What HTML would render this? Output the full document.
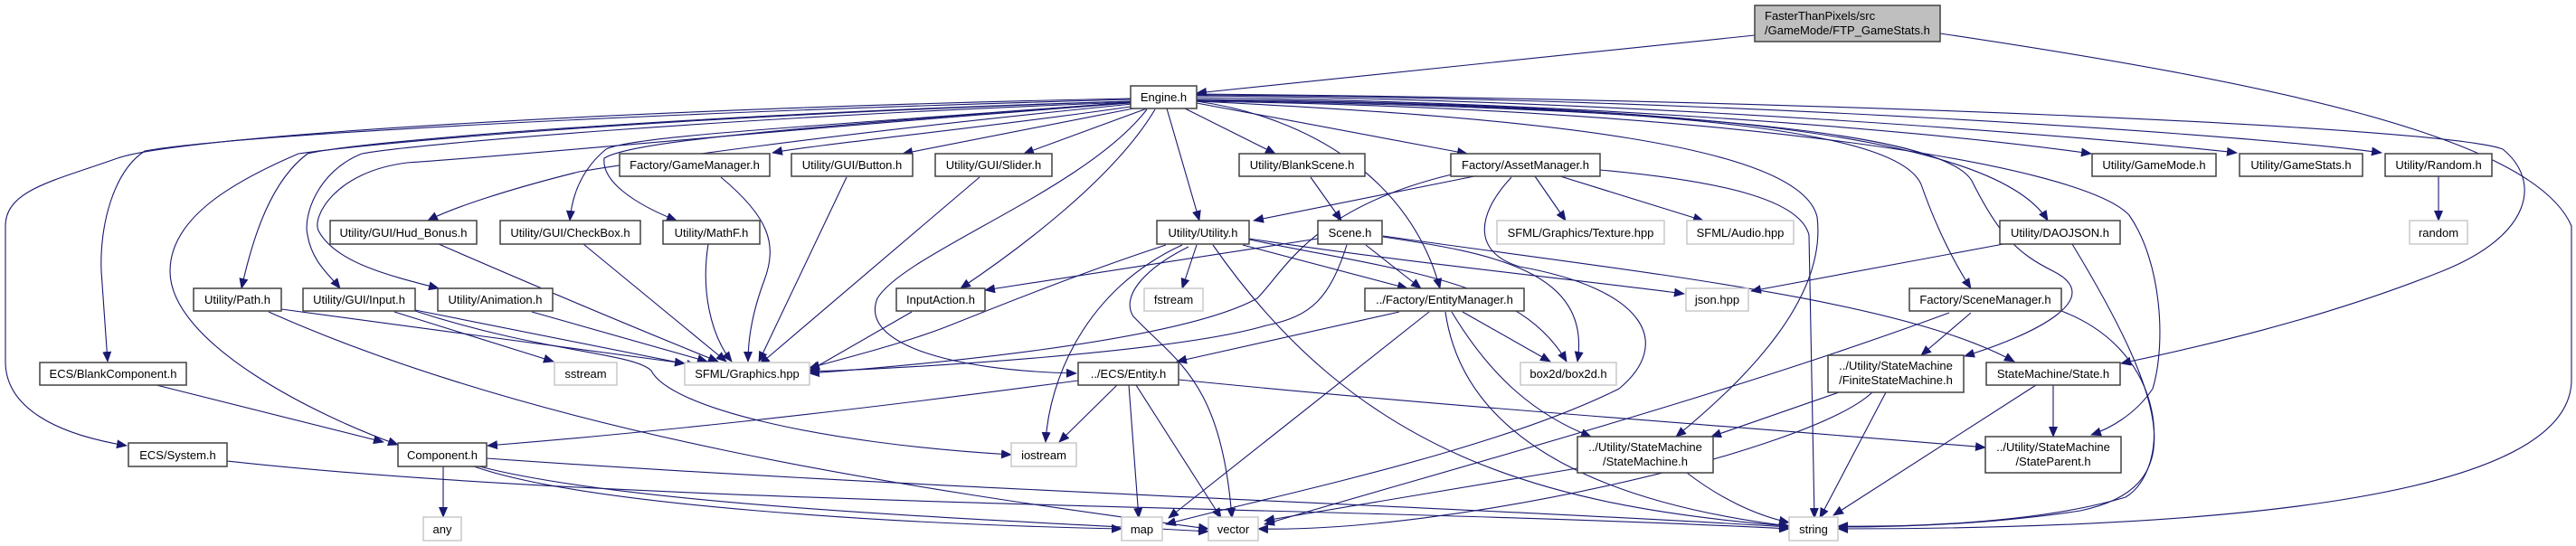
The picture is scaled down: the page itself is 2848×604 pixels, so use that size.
<!DOCTYPE html>
<html><head><meta charset="utf-8"><style>
html,body{margin:0;padding:0;background:#fff;}
svg{display:block;}
text{font-family:"Liberation Sans",sans-serif;font-size:13px;fill:#000;}
.n{fill:#fff;stroke:#404040;stroke-width:1.5;}
.g{fill:#fff;stroke:#c8c8c8;stroke-width:1.5;}
.e{fill:none;stroke:#191970;stroke-width:1.1;}
</style></head><body>
<svg width="2848" height="604" viewBox="0 0 2848 604" xmlns="http://www.w3.org/2000/svg">
<defs><marker id="a" markerUnits="userSpaceOnUse" markerWidth="12" markerHeight="10" refX="11" refY="5" orient="auto"><path d="M0,0 L12,5 L0,10 z" fill="#191970"/></marker></defs>
<g class="e" marker-end="url(#a)">
<path d="M1940,39 L1323,103"/>
<path d="M2145,37 C2500,90 2800,150 2843,250 L2843,420 C2843,560 2400,585 2032,585"/>
<path d="M1250,118 C1100,140 900,160 854,169"/>
<path d="M1253,120 L998,170"/>
<path d="M1268,120 L1132,170"/>
<path d="M1310,120 L1410,170"/>
<path d="M1323,114 L1622,170"/>
<path d="M1290,120 L1326,244"/>
<path d="M1277,121 C1230,200 1120,280 1062,319"/>
<path d="M1268,121 C1200,210 1000,280 970,330 C950,380 1050,410 1190,413"/>
<path d="M1323,112 C1450,130 1560,200 1592,319"/>
<path d="M1250,112 C700,130 400,160 330,170 C260,200 188,240 188,300 C188,380 350,460 440,492"/>
<path d="M1250,110 C700,125 250,150 160,167 C125,190 110,250 112,300 L119,400"/>
<path d="M1250,109 C700,120 200,150 130,175 C60,200 6,210 6,250 L6,400 C6,450 60,480 140,493"/>
<path d="M1250,112 C800,125 400,155 340,170 C300,200 280,260 267,319"/>
<path d="M1250,113 C800,130 450,160 400,170 C350,190 335,240 340,260 C345,290 365,305 376,319"/>
<path d="M1250,114 C900,140 600,170 450,180 C370,190 345,240 352,255 C370,290 430,305 485,319"/>
<path d="M1252,115 C900,150 700,180 640,190 C560,210 500,230 473,244"/>
<path d="M1252,113 C900,140 700,150 670,165 C640,190 632,220 630,244"/>
<path d="M1252,113 C900,140 700,155 668,175 C665,200 700,225 748,244"/>
<path d="M1323,108 C1700,112 2100,140 2312,170"/>
<path d="M1323,106 C1800,110 2300,150 2473,169"/>
<path d="M1323,105 C1900,108 2500,150 2633,169"/>
<path d="M1323,104 C2000,110 2700,140 2767,165 C2810,200 2800,260 2700,300 C2550,360 2400,390 2345,402"/>
<path d="M1323,110 C1800,115 2200,140 2264,244"/>
<path d="M1323,110 C1900,118 2100,150 2124,204 C2140,250 2160,290 2179,319"/>
<path d="M1323,111 C1900,120 2150,150 2180,200 C2210,260 2230,280 2270,300 C2330,330 2250,370 2172,394"/>
<path d="M1323,112 C1900,120 2300,180 2354,238 C2390,290 2395,380 2380,430 C2360,460 2330,475 2312,481"/>
<path d="M1323,112 C1700,130 1990,160 2009,240 C2020,330 1930,420 1853,483"/>
<path d="M1769,188 C1900,200 1990,220 2000,260 L2006,573"/>
<path d="M1630,195 L1386,244"/>
<path d="M1697,195 L1731,244"/>
<path d="M1725,195 L1883,244"/>
<path d="M1605,193 C1450,230 1420,300 1390,330 C1300,380 1000,405 895,413"/>
<path d="M1671,196 C1630,240 1630,280 1680,295 C1820,320 1850,380 1790,430 C1650,500 1400,550 1289,580"/>
<path d="M1457,264 L1089,321"/>
<path d="M1323,271 L1307,319"/>
<path d="M1374,271 L1556,319"/>
<path d="M1289,271 C1200,300 1100,340 1050,360 C1000,380 920,400 895,407"/>
<path d="M1307,271 C1200,320 1160,420 1156,489"/>
<path d="M1314,273 C1260,300 1240,330 1253,350 C1300,400 1350,420 1362,573"/>
<path d="M1341,271 C1500,500 1700,560 1978,582"/>
<path d="M1381,265 C1550,300 1680,310 1732,400"/>
<path d="M1381,264 C1550,290 1750,310 1862,325"/>
<path d="M1510,271 L1571,319"/>
<path d="M1489,271 C1470,330 1450,350 1400,360 C1300,390 1000,408 895,411"/>
<path d="M1529,262 C1650,280 1760,300 1744,400"/>
<path d="M1529,261 C1800,300 2100,330 2227,400"/>
<path d="M1449,196 L1483,244"/>
<path d="M1083,196 L840,403"/>
<path d="M936,196 L839,400"/>
<path d="M797,196 C850,240 860,270 845,310 C830,350 827,380 827,400"/>
<path d="M783,270 C775,320 785,370 809,400"/>
<path d="M645,270 L803,400"/>
<path d="M485,270 C600,320 720,370 794,400"/>
<path d="M588,345 L782,400"/>
<path d="M459,343 L770,405"/>
<path d="M436,345 L612,400"/>
<path d="M459,344 C600,390 700,390 720,410 C740,450 900,490 1118,503"/>
<path d="M311,342 L757,402"/>
<path d="M297,345 C600,480 1000,540 1336,585"/>
<path d="M1008,345 L895,410"/>
<path d="M173,426 L424,489"/>
<path d="M251,510 C700,560 1500,560 1978,585"/>
<path d="M490,516 L490,572"/>
<path d="M538,507 C1000,540 1600,560 1978,583"/>
<path d="M524,516 C650,560 1000,580 1240,585"/>
<path d="M530,516 C700,560 1100,575 1336,588"/>
<path d="M1192,421 C900,460 700,480 539,493"/>
<path d="M1235,426 L1171,489"/>
<path d="M1248,426 L1259,573"/>
<path d="M1256,426 L1350,573"/>
<path d="M1303,420 C1600,450 1900,470 2195,495"/>
<path d="M1547,345 L1301,400"/>
<path d="M1580,345 L1292,573"/>
<path d="M1617,345 L1714,400"/>
<path d="M1605,345 C1650,420 1700,460 1759,483"/>
<path d="M1598,345 C1620,500 1800,560 1978,582"/>
<path d="M1744,518 L1398,576"/>
<path d="M1865,523 C1900,550 1940,570 1978,578"/>
<path d="M2155,346 C1900,440 1600,520 1398,580"/>
<path d="M2179,346 L2124,393"/>
<path d="M2279,344 C2400,390 2400,520 2350,550 C2250,580 2100,583 2032,582"/>
<path d="M2033,434 L1892,483"/>
<path d="M2070,434 C2000,500 1600,590 1391,585"/>
<path d="M2085,434 L2012,573"/>
<path d="M2270,426 L2270,483"/>
<path d="M2251,426 L2027,570"/>
<path d="M2215,270 L1936,322"/>
<path d="M2291,270 C2400,450 2420,540 2300,565 C2200,580 2100,583 2032,583"/>
<path d="M2696,195 L2696,244"/>
</g>
<g>
<rect x="1940" y="6" width="205" height="40" fill="#bfbfbf" stroke="#404040" stroke-width="1.5"/>
<text x="1951" y="22">FasterThanPixels/src</text><text x="1951" y="38">/GameMode/FTP_GameStats.h</text>
<rect class="n" x="1250" y="95" width="73" height="25"/><text x="1286.5" y="112" text-anchor="middle">Engine.h</text>
</g>
<g text-anchor="middle">
<rect class="n" x="685" y="170" width="166" height="25"/><text x="768" y="187">Factory/GameManager.h</text>
<rect class="n" x="875" y="170" width="134" height="25"/><text x="942" y="187">Utility/GUI/Button.h</text>
<rect class="n" x="1034" y="170" width="129" height="25"/><text x="1098.5" y="187">Utility/GUI/Slider.h</text>
<rect class="n" x="1370" y="170" width="139" height="25"/><text x="1439.5" y="187">Utility/BlankScene.h</text>
<rect class="n" x="1604" y="170" width="165" height="25"/><text x="1686.5" y="187">Factory/AssetManager.h</text>
<rect class="n" x="2313" y="170" width="137" height="25"/><text x="2381.5" y="187">Utility/GameMode.h</text>
<rect class="n" x="2476" y="170" width="136" height="25"/><text x="2544" y="187">Utility/GameStats.h</text>
<rect class="n" x="2637" y="170" width="118" height="25"/><text x="2696" y="187">Utility/Random.h</text>

<rect class="n" x="365" y="244" width="162" height="26"/><text x="446" y="262">Utility/GUI/Hud_Bonus.h</text>
<rect class="n" x="553" y="244" width="155" height="26"/><text x="630.5" y="262">Utility/GUI/CheckBox.h</text>
<rect class="n" x="733" y="244" width="107" height="26"/><text x="786.5" y="262">Utility/MathF.h</text>
<rect class="n" x="1279" y="244" width="102" height="26"/><text x="1330" y="262">Utility/Utility.h</text>
<rect class="n" x="1457" y="244" width="71" height="26"/><text x="1492.5" y="262">Scene.h</text>
<rect class="g" x="1655" y="244" width="185" height="26"/><text x="1747.5" y="262">SFML/Graphics/Texture.hpp</text>
<rect class="g" x="1865" y="244" width="118" height="26"/><text x="1924" y="262">SFML/Audio.hpp</text>
<rect class="n" x="2211" y="244" width="133" height="26"/><text x="2277.5" y="262">Utility/DAOJSON.h</text>
<rect class="g" x="2664" y="244" width="64" height="26"/><text x="2696" y="262">random</text>

<rect class="n" x="214" y="319" width="97" height="25"/><text x="262.5" y="336">Utility/Path.h</text>
<rect class="n" x="335" y="319" width="124" height="25"/><text x="397" y="336">Utility/GUI/Input.h</text>
<rect class="n" x="484" y="319" width="127" height="25"/><text x="547.5" y="336">Utility/Animation.h</text>
<rect class="n" x="991" y="319" width="98" height="25"/><text x="1040" y="336">InputAction.h</text>
<rect class="g" x="1265" y="319" width="65" height="25"/><text x="1297.5" y="336">fstream</text>
<rect class="n" x="1509" y="319" width="176" height="25"/><text x="1597" y="336">../Factory/EntityManager.h</text>
<rect class="g" x="1864" y="319" width="69" height="25"/><text x="1898.5" y="336">json.hpp</text>
<rect class="n" x="2111" y="319" width="168" height="25"/><text x="2195" y="336">Factory/SceneManager.h</text>

<rect class="n" x="44" y="401" width="162" height="25"/><text x="125" y="418">ECS/BlankComponent.h</text>
<rect class="g" x="613" y="401" width="69" height="25"/><text x="647.5" y="418">sstream</text>
<rect class="g" x="757" y="401" width="138" height="25"/><text x="826" y="418">SFML/Graphics.hpp</text>
<rect class="n" x="1192" y="401" width="111" height="25"/><text x="1247.5" y="418">../ECS/Entity.h</text>
<rect class="g" x="1681" y="401" width="106" height="25"/><text x="1734" y="418">box2d/box2d.h</text>
<rect class="n" x="2021" y="393" width="150" height="41"/><text x="2096" y="409">../Utility/StateMachine</text><text x="2096" y="425">/FiniteStateMachine.h</text>
<rect class="n" x="2196" y="401" width="148" height="25"/><text x="2270" y="418">StateMachine/State.h</text>

<rect class="n" x="142" y="490" width="109" height="26"/><text x="196.5" y="508">ECS/System.h</text>
<rect class="n" x="440" y="490" width="98" height="26"/><text x="489" y="508">Component.h</text>
<rect class="g" x="1118" y="490" width="72" height="26"/><text x="1154" y="508">iostream</text>
<rect class="n" x="1744" y="483" width="150" height="40"/><text x="1819" y="499">../Utility/StateMachine</text><text x="1819" y="515">/StateMachine.h</text>
<rect class="n" x="2195" y="483" width="150" height="40"/><text x="2270" y="499">../Utility/StateMachine</text><text x="2270" y="515">/StateParent.h</text>

<rect class="g" x="468" y="572" width="42" height="26"/><text x="489" y="590">any</text>
<rect class="g" x="1240" y="572" width="45" height="26"/><text x="1262.5" y="590">map</text>
<rect class="g" x="1336" y="572" width="55" height="26"/><text x="1363.5" y="590">vector</text>
<rect class="g" x="1978" y="572" width="54" height="26"/><text x="2005" y="590">string</text>
</g>
</svg>
</body></html>
